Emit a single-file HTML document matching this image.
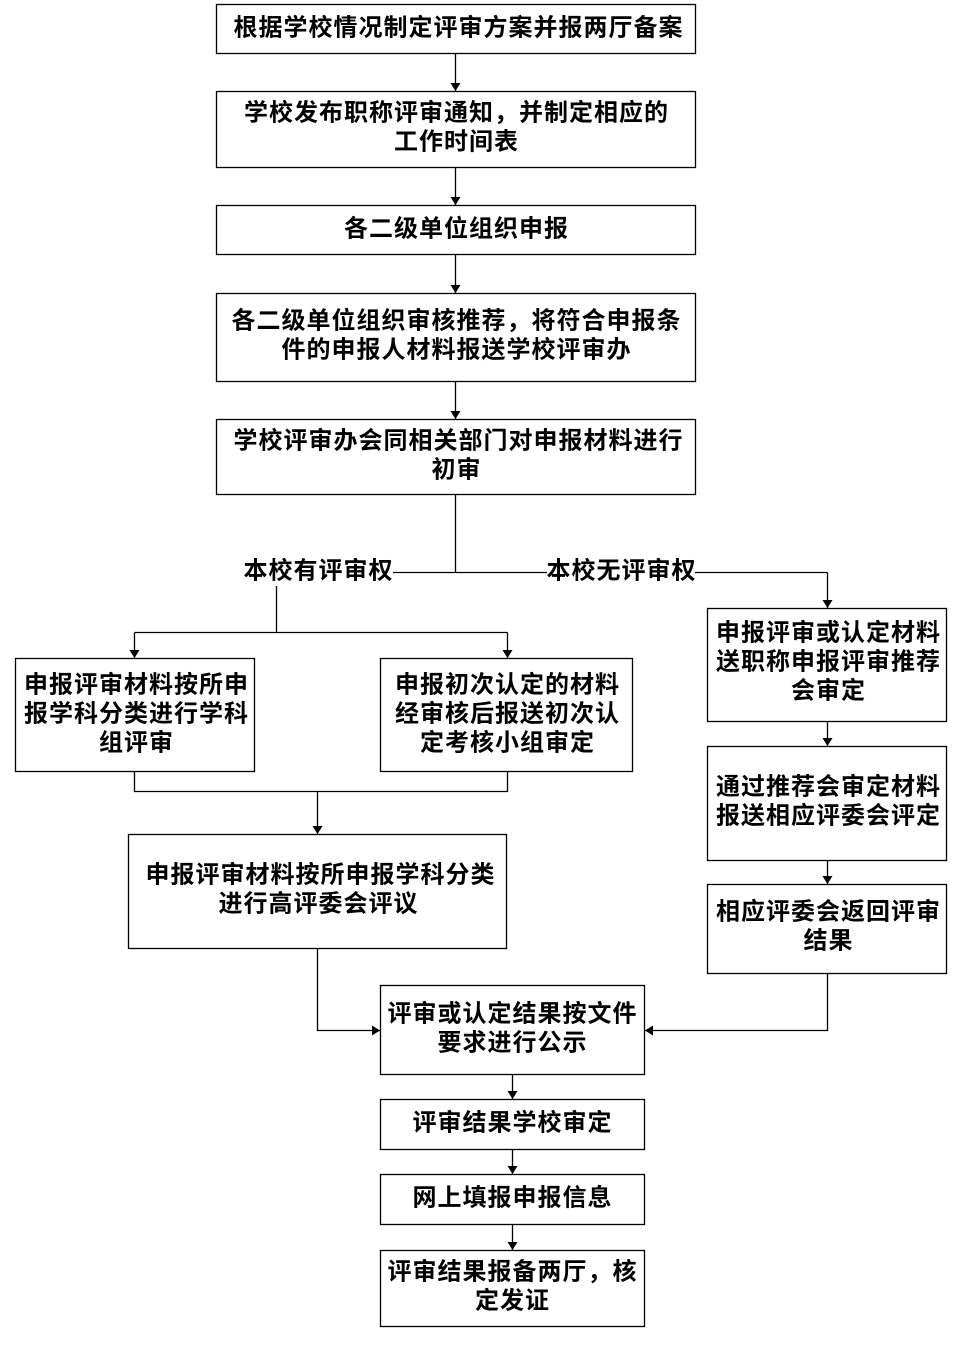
<!DOCTYPE html>
<html><head><meta charset="utf-8"><style>
html,body{margin:0;padding:0;background:#fff}
svg text{font-family:"Liberation Sans","Noto Sans CJK SC",sans-serif;font-size:24px;font-weight:bold;fill:#000;text-anchor:middle;dominant-baseline:central;letter-spacing:1px}
</style></head><body>
<svg width="968" height="1366" viewBox="0 0 968 1366" xmlns="http://www.w3.org/2000/svg">
<defs><marker id="a" markerWidth="8" markerHeight="10" refX="8" refY="5" orient="auto" markerUnits="userSpaceOnUse"><path d="M0,0 L8,5 L0,10 z" fill="#000"/></marker></defs>
<g fill="none" stroke="#000" stroke-width="1.3">
<rect x="216.5" y="4.5" width="479" height="49"/>
<rect x="216.5" y="91.5" width="479" height="76"/>
<rect x="216.5" y="205.5" width="479" height="49"/>
<rect x="216.5" y="293.5" width="479" height="88"/>
<rect x="216.5" y="419.5" width="479" height="75"/>
<rect x="15.5" y="658.5" width="239" height="113"/>
<rect x="380.5" y="658.5" width="252" height="113"/>
<rect x="707.5" y="608.5" width="239" height="113"/>
<rect x="707.5" y="746.5" width="239" height="114"/>
<rect x="707.5" y="884.5" width="239" height="89"/>
<rect x="128.5" y="834.5" width="378" height="114"/>
<rect x="380.5" y="985.5" width="264" height="89"/>
<rect x="380.5" y="1099.5" width="264" height="50"/>
<rect x="380.5" y="1174.5" width="264" height="50"/>
<rect x="380.5" y="1250.5" width="264" height="76"/>
<g marker-end="url(#a)">
<path d="M455.5,53 V91"/>
<path d="M455.5,167 V205"/>
<path d="M455.5,254 V293"/>
<path d="M455.5,381 V419"/>
<path d="M827.5,572.5 V608"/>
<path d="M134.5,632.5 V658"/>
<path d="M507.5,632.5 V658"/>
<path d="M827.5,721 V746"/>
<path d="M827.5,860 V884"/>
<path d="M317.5,791.5 V834"/>
<path d="M317.5,948 V1030.5 H380"/>
<path d="M827.5,973 V1030.5 H645"/>
<path d="M512.5,1074 V1099"/>
<path d="M512.5,1149 V1174"/>
<path d="M512.5,1224 V1250"/>
</g>
<path d="M455.5,494 V572.5"/>
<path d="M393,572.5 H547"/>
<path d="M695,572.5 H827.5"/>
<path d="M276.5,586 V632.5 H507.5"/>
<path d="M134.5,632.5 H276.5"/>
<path d="M134.5,771 V791.5 H507.5 V771"/>
</g>
<g transform="translate(0.5,0)">
<text x="458" y="28">根据学校情况制定评审方案并报两厅备案</text>
<text x="456" y="113">学校发布职称评审通知，并制定相应的</text>
<text x="456" y="142">工作时间表</text>
<text x="456" y="229">各二级单位组织申报</text>
<text x="456" y="321">各二级单位组织审核推荐，将符合申报条</text>
<text x="456" y="350">件的申报人材料报送学校评审办</text>
<text x="458" y="441">学校评审办会同相关部门对申报材料进行</text>
<text x="456" y="470">初审</text>
<text x="318" y="571">本校有评审权</text>
<text x="621" y="571">本校无评审权</text>
<text x="136" y="685">申报评审材料按所申</text>
<text x="136" y="714">报学科分类进行学科</text>
<text x="136" y="743">组评审</text>
<text x="507" y="685">申报初次认定的材料</text>
<text x="507" y="714">经审核后报送初次认</text>
<text x="507" y="743">定考核小组审定</text>
<text x="828" y="633">申报评审或认定材料</text>
<text x="828" y="662">送职称申报评审推荐</text>
<text x="828" y="691">会审定</text>
<text x="828" y="787">通过推荐会审定材料</text>
<text x="828" y="816">报送相应评委会评定</text>
<text x="828" y="912">相应评委会返回评审</text>
<text x="828" y="941">结果</text>
<text x="320" y="875">申报评审材料按所申报学科分类</text>
<text x="318" y="904">进行高评委会评议</text>
<text x="512" y="1014">评审或认定结果按文件</text>
<text x="512" y="1043">要求进行公示</text>
<text x="512" y="1123">评审结果学校审定</text>
<text x="512" y="1198">网上填报申报信息</text>
<text x="512" y="1272">评审结果报备两厅，核</text>
<text x="512" y="1301">定发证</text>
</g>
</svg>
</body></html>
